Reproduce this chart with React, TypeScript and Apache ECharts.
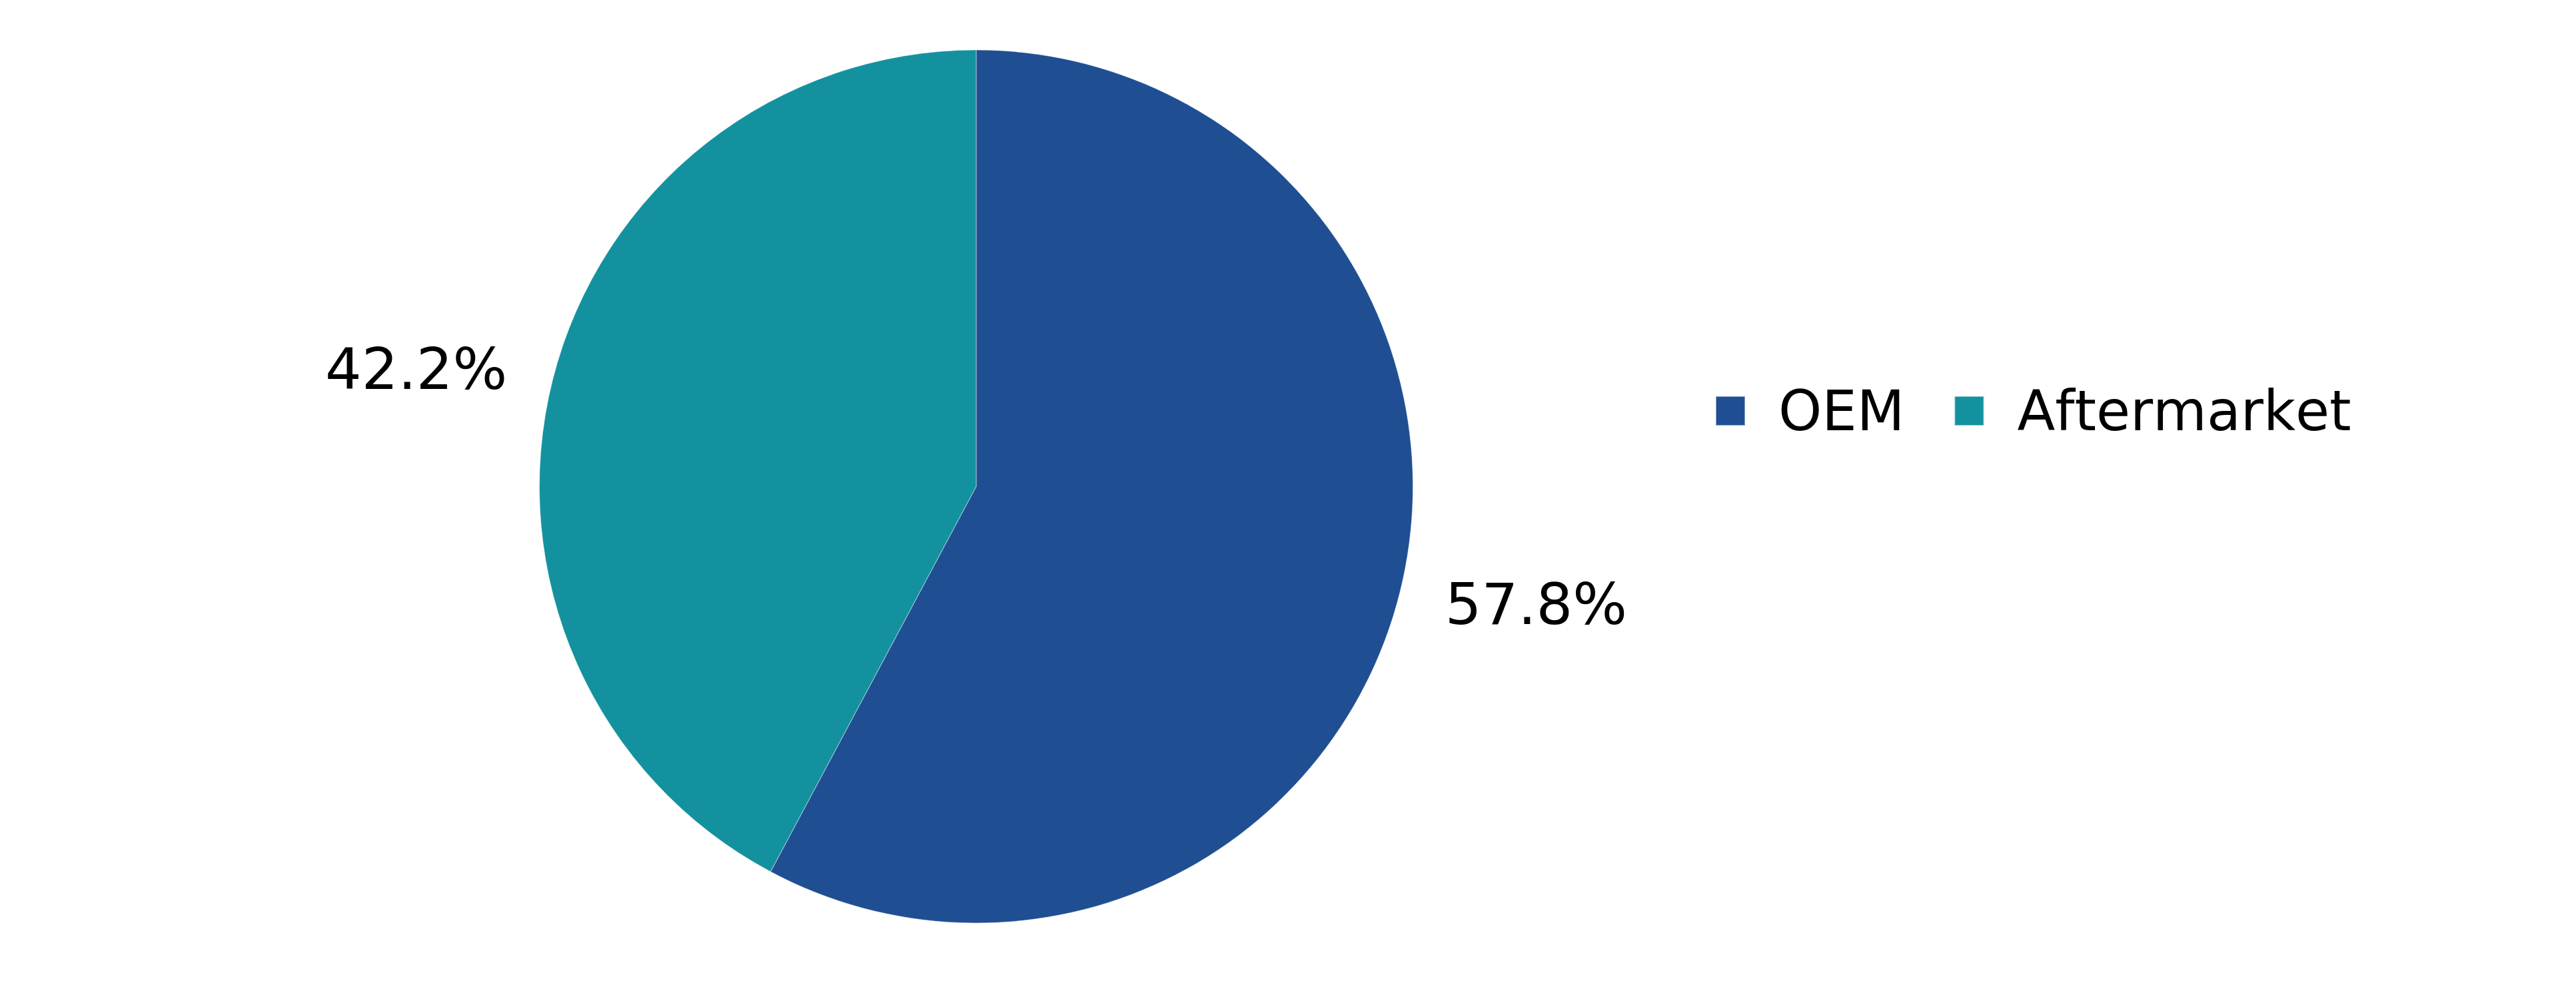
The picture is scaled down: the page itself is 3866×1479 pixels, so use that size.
import React, { useEffect, useRef } from "react";
import * as echarts from "echarts";

const categories = ["OEM", "Aftermarket"];
const shares = [57.8, 42.2];
const colors = ["#1f4f92", "#13919e"];

export default function App() {
  const ref = useRef<HTMLDivElement>(null);
  useEffect(() => {
    if (!ref.current) return;
    const chart = echarts.init(ref.current, undefined, { renderer: "svg" });
    chart.setOption({
      animation: false,
      backgroundColor: "#ffffff",
      color: colors,
      legend: {
        data: categories,
        orient: "horizontal",
        left: 2574,
        top: 575,
        padding: 0,
        itemWidth: 44,
        itemHeight: 44,
        itemGap: 74,
        icon: "rect",
        textStyle: {
          fontFamily: "DejaVu Sans",
          fontSize: 83,
          color: "#000000",
          lineHeight: 84,
          padding: [0, 0, 0, 45],
        },
      },
      series: [
        {
          type: "pie",
          center: [1465, 730.5],
          radius: 655.5,
          startAngle: 90,
          clockwise: true,
          avoidLabelOverlap: false,
          itemStyle: { borderColor: "rgba(255,255,255,0.5)", borderWidth: 1 },
          label: {
            show: true,
            position: "outside",
            fontFamily: "DejaVu Sans",
            fontSize: 86,
            color: "#000000",
            distanceToLabelLine: 0,
            formatter: (p: any) => `${Number(p.value).toFixed(1)}%`,
          },
          labelLine: { show: false, length: 70, length2: 0 },
          emphasis: { disabled: true },
          data: categories.map((name, i) => ({ name, value: shares[i] })),
        },
      ],
    });
    return () => chart.dispose();
  }, []);
  return (
    <>
      <style>{`svg text { font-variant-ligatures: none !important; font-kerning: none !important; }`}</style>
      <div
        ref={ref}
        style={{ position: "fixed", left: 0, top: 0, width: 3866, height: 1479 }}
      />
    </>
  );
}
